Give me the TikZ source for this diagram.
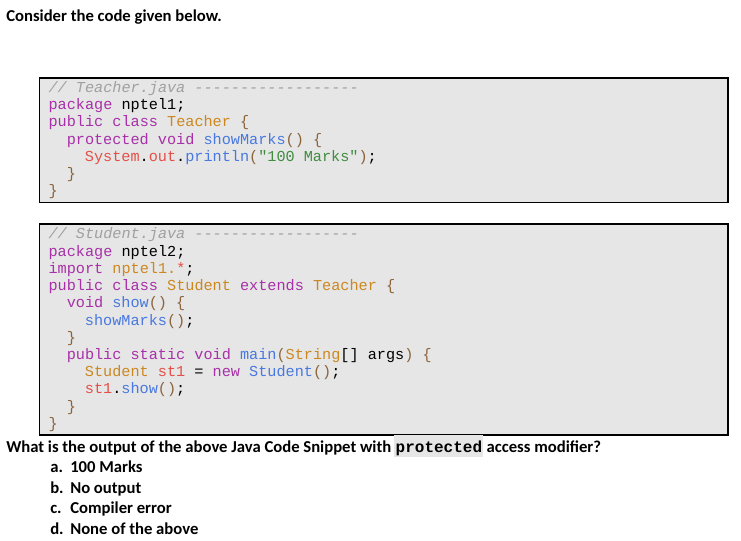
\documentclass[tikz,border=0pt]{standalone}
\usepackage{fontspec}
\setmainfont{Carlito}
\setmonofont{Liberation Mono}
\usepackage{xcolor}
\definecolor{codebg}{HTML}{E6E6E6}
\definecolor{jkwc}{RGB}{168,48,168}
\definecolor{jtyc}{RGB}{204,136,32}
\definecolor{jfnc}{RGB}{72,120,224}
\definecolor{jvrc}{RGB}{228,80,72}
\definecolor{jstrc}{RGB}{64,140,64}
\definecolor{jpnc}{RGB}{140,100,60}
\definecolor{jcmc}{RGB}{160,160,160}
\newcommand{\jkw}[1]{\textcolor{jkwc}{#1}}
\newcommand{\jty}[1]{\textcolor{jtyc}{#1}}
\newcommand{\jfn}[1]{\textcolor{jfnc}{#1}}
\newcommand{\jvr}[1]{\textcolor{jvrc}{#1}}
\newcommand{\jstr}[1]{\textcolor{jstrc}{#1}}
\newcommand{\jpn}[1]{\textcolor{jpnc}{#1}}
\newcommand{\jcm}[1]{\textcolor{jcmc}{\itshape #1}}
\tikzset{
  codebox/.style={draw=black, fill=codebg, line width=0.8pt},
  codeline/.style={anchor=base west, inner sep=0pt, font=\fontsize{11.4}{13}\selectfont\ttfamily},
  textline/.style={anchor=base west, inner sep=0pt, font=\fontsize{12.5}{15}\selectfont\bfseries}
}
\frenchspacing

\begin{document}
\begin{tikzpicture}[x=0.75pt, y=-0.75pt]
  \useasboundingbox (0,0) rectangle (741,541);

  \node[textline] (title) at (6, 22) {Consider the code given below.};

  % Teacher.java
  \draw[codebox] (39.5, 78) rectangle (728, 202.5);
  \node[codeline] (t1) at (48.3,  92.5) {\jcm{// Teacher.java ------------------}};
  \node[codeline] (t2) at (48.3, 109.7) {\jkw{package} nptel1;};
  \node[codeline] (t3) at (48.3, 126.9) {\jkw{public class} \jty{Teacher} \jpn{\{}};
  \node[codeline] (t4) at (66.5, 144.1) {\jkw{protected void} \jfn{showMarks}\jpn{()} \jpn{\{}};
  \node[codeline] (t5) at (84.7, 161.3) {\jvr{System}.\jvr{out}.\jfn{println}\jpn{(}\jstr{"100 Marks"}\jpn{)};};
  \node[codeline] (t6) at (66.5, 178.5) {\jpn{\}}};
  \node[codeline] (t7) at (48.3, 195.7) {\jpn{\}}};

  % Student.java
  \draw[codebox] (39.5, 224) rectangle (728, 435);
  \node[codeline] (s1)  at (48.3, 239.0) {\jcm{// Student.java ------------------}};
  \node[codeline] (s2)  at (48.3, 256.2) {\jkw{package} nptel2;};
  \node[codeline] (s3)  at (48.3, 273.4) {\jkw{import} \jty{nptel1.}\jvr{*};};
  \node[codeline] (s4)  at (48.3, 290.6) {\jkw{public class} \jty{Student} \jkw{extends} \jty{Teacher} \jpn{\{}};
  \node[codeline] (s5)  at (66.5, 307.8) {\jkw{void} \jfn{show}\jpn{()} \jpn{\{}};
  \node[codeline] (s6)  at (84.7, 325.0) {\jfn{showMarks}\jpn{()};};
  \node[codeline] (s7)  at (66.5, 342.2) {\jpn{\}}};
  \node[codeline] (s8)  at (66.5, 359.4) {\jkw{public static void} \jfn{main}\jpn{(}\jty{String}[] args\jpn{)} \jpn{\{}};
  \node[codeline] (s9)  at (84.7, 376.6) {\jty{Student} \jvr{st1} = \jkw{new} \jfn{Student}\jpn{()};};
  \node[codeline] (s10) at (84.7, 393.8) {\jvr{st1}.\jfn{show}\jpn{()};};
  \node[codeline] (s11) at (66.5, 411.0) {\jpn{\}}};
  \node[codeline] (s12) at (48.3, 428.2) {\jpn{\}}};

  % question
  \node[textline] (q1) at (6, 452) {What is the output of the above Java Code Snippet with};
  \node[codeline, font=\fontsize{12}{14}\selectfont\ttfamily\bfseries, fill=codebg,
        inner xsep=1pt, text height=12.75pt, text depth=3.75pt] (qkw) at ([xshift=2pt]q1.base east) {protected};
  \node[textline] (q2) at ([xshift=2pt]qkw.base east) {access modifier?};

  \node[textline] (oa) at (50, 472.5) {a.};
  \node[textline] (ta) at (70, 472.5) {100 Marks};
  \node[textline] (ob) at (50, 493) {b.};
  \node[textline] (tb) at (70, 493) {No output};
  \node[textline] (oc) at (50, 513.5) {c.};
  \node[textline] (tc) at (70, 513.5) {Compiler error};
  \node[textline] (od) at (50, 534) {d.};
  \node[textline] (td) at (70, 534) {None of the above};
\end{tikzpicture}
\end{document}
